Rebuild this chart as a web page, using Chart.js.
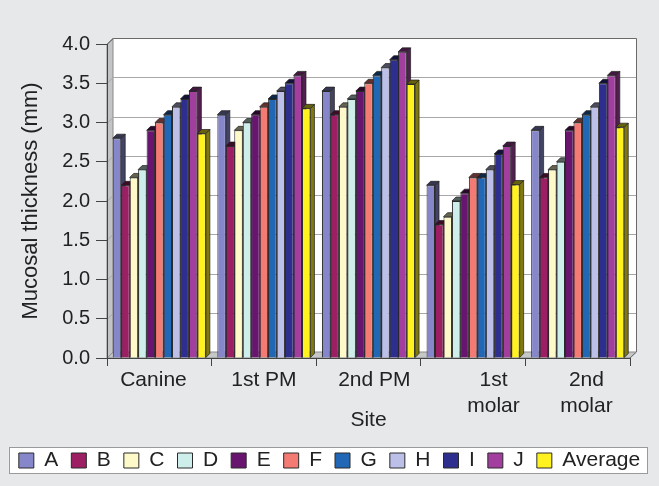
<!DOCTYPE html>
<html><head><meta charset="utf-8">
<script src="https://cdn.jsdelivr.net/npm/chart.js@4.4.1/dist/chart.umd.min.js"></script>
<style>html,body{margin:0;padding:0;background:#e6e8ea;}#wrap{width:659px;height:486px;}</style>
</head><body><div id="wrap"><canvas id="c" width="659" height="486"></canvas></div>
<script>
// ---- data ----
const categories = ['Canine', '1st PM', '2nd PM', ['1st', 'molar'], ['2nd', 'molar']];
const seriesNames = ['A', 'B', 'C', 'D', 'E', 'F', 'G', 'H', 'I', 'J', 'Average'];
const seriesA = [2.8, 3.1, 3.4, 2.2, 2.9];
const seriesB = [2.2, 2.7, 3.1, 1.7, 2.3];
const seriesC = [2.3, 2.9, 3.2, 1.8, 2.4];
const seriesD = [2.4, 3.0, 3.3, 2.0, 2.5];
const seriesE = [2.9, 3.1, 3.4, 2.1, 2.9];
const seriesF = [3.0, 3.2, 3.5, 2.3, 3.0];
const seriesG = [3.1, 3.3, 3.6, 2.3, 3.1];
const seriesH = [3.2, 3.4, 3.7, 2.4, 3.2];
const seriesI = [3.3, 3.5, 3.8, 2.6, 3.5];
const seriesJ = [3.4, 3.6, 3.9, 2.7, 3.6];
const seriesAverage = [2.86, 3.18, 3.49, 2.21, 2.94];
const yTicks = [0, 0.5, 1, 1.5, 2, 2.5, 3, 3.5, 4];

// ---- style ----
const seriesValues = [seriesA, seriesB, seriesC, seriesD, seriesE, seriesF, seriesG, seriesH, seriesI, seriesJ, seriesAverage];
const seriesColors = ['#8587ca', '#9b1f62', '#fdf9c9', '#cdeeea', '#68156f', '#f47b73', '#2067b6', '#bcbfe8', '#2d2e8e', '#a23f9e', '#fff21e'];
const labelIndent = [-2, 0, 2, 7, 3]; // visual nudge of wrapped labels, in spaces
const WALL = 6, BAR_D = 4;

Chart.defaults.font.family = '"Liberation Sans", Arial, Helvetica, sans-serif';
Chart.defaults.color = '#222';

function shade(hex, f) {
  const n = parseInt(hex.slice(1), 16);
  const r = Math.round(((n >> 16) & 255) * f), g = Math.round(((n >> 8) & 255) * f), b = Math.round((n & 255) * f);
  return `rgb(${r},${g},${b})`;
}
function poly(ctx, pts, fill, stroke) {
  ctx.beginPath();
  ctx.moveTo(pts[0][0], pts[0][1]);
  for (let i = 1; i < pts.length; i++) ctx.lineTo(pts[i][0], pts[i][1]);
  ctx.closePath();
  if (fill) { ctx.fillStyle = fill; ctx.fill(); }
  if (stroke) { ctx.strokeStyle = stroke; ctx.lineWidth = 1; ctx.stroke(); }
}

const frame3d = {
  id: 'frame3d',
  beforeDraw(chart) {
    const {ctx, chartArea: a, scales: {y}} = chart;
    ctx.save();
    // legend panel
    const hb = chart.legend && chart.legend.legendHitBoxes;
    if (hb && hb.length) {
      const l = hb[0].left - 10, r = hb[hb.length - 1].left + hb[hb.length - 1].width + 7;
      const t = hb[0].top - 3;
      ctx.fillStyle = '#ffffff';
      ctx.fillRect(l, t, r - l, hb[0].height + 5);
      ctx.strokeStyle = '#9a9a9a';
      ctx.lineWidth = 1;
      ctx.strokeRect(Math.round(l) + 0.5, Math.round(t) + 0.5, Math.round(r - l), Math.round(hb[0].height + 5));
    }
    const L = a.left, R = a.right, T = a.top, B = a.bottom, D = WALL;
    // back wall
    ctx.fillStyle = '#ffffff';
    ctx.fillRect(L + D, T - D, R - L, B - T);
    // left wall
    poly(ctx, [[L, T], [L + D, T - D], [L + D, B - D], [L, B]], '#c3c4c6', '#8a8a8a');
    // floor
    poly(ctx, [[L, B], [L + D, B - D], [R + D, B - D], [R, B]], '#c6c7c9', '#8a8a8a');
    // gridlines
    ctx.strokeStyle = '#a8a8a8';
    ctx.lineWidth = 1;
    yTicks.forEach(v => {
      const py = Math.round(y.getPixelForValue(v)) + 0.5;
      ctx.beginPath();
      ctx.moveTo(L, py);
      ctx.lineTo(L + D, py - D);
      ctx.lineTo(R + D, py - D);
      ctx.stroke();
    });
    // wall outline
    ctx.strokeStyle = '#6a6a6a';
    ctx.beginPath();
    ctx.moveTo(L, T + 0.5);
    ctx.lineTo(L + D + 0.5, T - D + 0.5);
    ctx.lineTo(R + D + 0.5, T - D + 0.5);
    ctx.lineTo(R + D + 0.5, B - D);
    ctx.lineTo(R, B);
    ctx.stroke();
    ctx.restore();
  },
  beforeDatasetsDraw(chart) {
    const ctx = chart.ctx;
    ctx.save();
    chart.data.datasets.forEach((ds, i) => {
      const meta = chart.getDatasetMeta(i);
      meta.data.forEach(bar => {
        const p = bar.getProps(['x', 'y', 'base', 'width'], true);
        const l = p.x - p.width / 2, r = p.x + p.width / 2, d = BAR_D;
        poly(ctx, [[r, p.y], [r + d, p.y - d], [r + d, p.base - d], [r, p.base]], shade(ds.backgroundColor, 0.5), 'rgba(30,30,30,0.7)');
        poly(ctx, [[l, p.y], [l + d, p.y - d], [r + d, p.y - d], [r, p.y]], shade(ds.backgroundColor, 0.4), 'rgba(30,30,30,0.7)');
      });
    });
    ctx.restore();
  }
};

new Chart(document.getElementById('c'), {
  type: 'bar',
  data: {
    labels: categories,
    datasets: seriesNames.map((name, i) => ({
      label: name,
      data: seriesValues[i],
      backgroundColor: seriesColors[i],
      borderColor: '#2a2a2a',
      borderWidth: 1,
      borderSkipped: 'start',
      categoryPercentage: 0.89,
      barPercentage: 1.0
    }))
  },
  options: {
    responsive: false,
    animation: false,
    devicePixelRatio: 1,
    layout: {padding: {top: 44, bottom: 5, left: 0, right: 0}},
    plugins: {
      tooltip: {enabled: false},
      legend: {
        position: 'bottom',
        labels: {
          boxWidth: 15, boxHeight: 15, padding: 13,
          font: {size: 21}, color: '#222'
        }
      }
    },
    scales: {
      x: {
        grid: {offset: true, drawOnChartArea: false, tickLength: 8, color: '#444'},
        border: {color: '#444'},
        ticks: {
          font: {size: 21}, color: '#222', padding: 2, maxRotation: 0, autoSkip: false,
          callback: function (v, i) {
            const lab = categories[i];
            const n = labelIndent[i];
            const pad = ' '.repeat(Math.abs(n));
            const f = s => n >= 0 ? pad + s : s + pad;
            return Array.isArray(lab) ? lab.map(f) : f(lab);
          }
        },
        title: {display: true, text: 'Site', font: {size: 21}, color: '#222', padding: {top: 0, bottom: 4}},
        afterFit: s => { s.height = 79; }
      },
      y: {
        min: 0, max: 4,
        ticks: {stepSize: 0.5, font: {size: 20}, color: '#222', padding: 6, callback: v => Number(v).toFixed(1)},
        grid: {drawOnChartArea: false, tickLength: 11, color: '#444'},
        border: {color: '#444'},
        title: {display: true, text: 'Mucosal thickness (mm)', font: {size: 22}, color: '#222', padding: {top: 18, bottom: 0}},
        afterFit: s => { s.width = 107; }
      },
      yR: {
        type: 'linear', position: 'right', display: true,
        grid: {display: false}, ticks: {display: false}, border: {display: false},
        afterFit: s => { s.width = 29; }
      }
    }
  },
  plugins: [frame3d]
});
</script></body></html>
